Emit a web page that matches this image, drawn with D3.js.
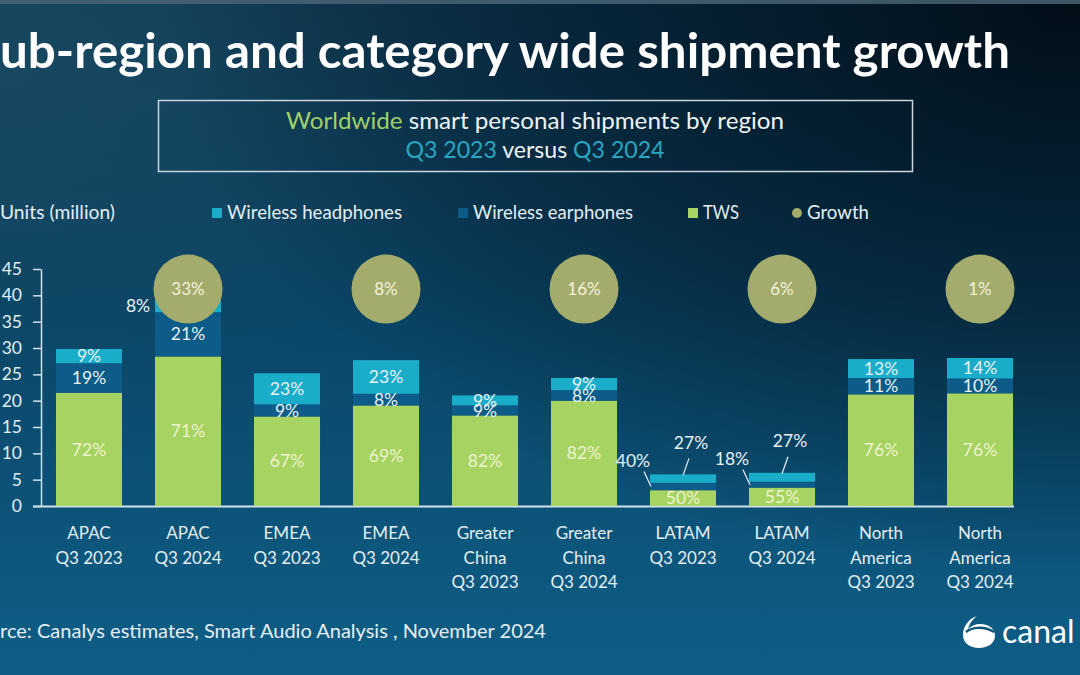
<!DOCTYPE html>
<html>
<head>
<meta charset="utf-8">
<script src="https://cdn.jsdelivr.net/npm/d3@7"></script>
<style>
  html, body { margin: 0; padding: 0; background: #0a3f5e; }
  svg { display: block; }
  text { font-family: Lato, "Open Sans", "DejaVu Sans", sans-serif; }
</style>
</head>
<body>
<svg id="chart" width="1080" height="675"></svg>
<script>
// ---------- data ----------
const categories = ["APAC Q3 2023","APAC Q3 2024","EMEA Q3 2023","EMEA Q3 2024","Greater China Q3 2023","Greater China Q3 2024","LATAM Q3 2023","LATAM Q3 2024","North America Q3 2023","North America Q3 2024"];
const categoryLines = [["APAC","Q3 2023"],["APAC","Q3 2024"],["EMEA","Q3 2023"],["EMEA","Q3 2024"],["Greater","China","Q3 2023"],["Greater","China","Q3 2024"],["LATAM","Q3 2023"],["LATAM","Q3 2024"],["North","America","Q3 2023"],["North","America","Q3 2024"]];
const twsValues        = [21.5, 28.4, 17.0, 19.1, 17.2, 20.0, 3.0, 3.5, 21.2, 21.4];
const earphoneValues   = [5.6, 8.4, 2.3, 2.2, 1.9, 2.0, 1.4, 1.1, 3.1, 2.8];
const headphoneValues  = [2.7, 3.2, 5.9, 6.4, 1.9, 2.3, 1.6, 1.7, 3.6, 3.9];
const twsShare         = ["72%","71%","67%","69%","82%","82%","50%","55%","76%","76%"];
const earphoneShare    = ["19%","21%","9%","8%","9%","8%","40%","18%","11%","10%"];
const headphoneShare   = ["9%","8%","23%","23%","9%","9%","27%","27%","13%","14%"];
const growthCategories = ["APAC Q3 2024","EMEA Q3 2024","Greater China Q3 2024","LATAM Q3 2024","North America Q3 2024"];
const growthLabels     = ["33%","8%","16%","6%","1%"];
const yTicks           = [0,5,10,15,20,25,30,35,40,45];
const legendItems      = ["Wireless headphones","Wireless earphones","TWS","Growth"];

// ---------- setup ----------
const W = 1080, H = 675;
const svg = d3.select("#chart");
const defs = svg.append("defs");

const bgLin = defs.append("linearGradient").attr("id","bgLin").attr("x1","0").attr("y1","0").attr("x2","0").attr("y2","1");
bgLin.append("stop").attr("offset","0").attr("stop-color","#0e3953");
bgLin.append("stop").attr("offset","0.45").attr("stop-color","#0a4566");
bgLin.append("stop").attr("offset","1").attr("stop-color","#0e5e87");
const bgRad = defs.append("radialGradient").attr("id","bgRad").attr("cx","1").attr("cy","0").attr("r","0.85");
bgRad.append("stop").attr("offset","0").attr("stop-color","#010b14").attr("stop-opacity","0.95");
bgRad.append("stop").attr("offset","0.55").attr("stop-color","#021422").attr("stop-opacity","0.55");
bgRad.append("stop").attr("offset","1").attr("stop-color","#021422").attr("stop-opacity","0");
const bgLeft = defs.append("radialGradient").attr("id","bgLeft").attr("cx","0").attr("cy","0.1").attr("r","0.5");
bgLeft.append("stop").attr("offset","0").attr("stop-color","#1b4b63").attr("stop-opacity","0.8");
bgLeft.append("stop").attr("offset","1").attr("stop-color","#1b4b63").attr("stop-opacity","0");

svg.append("rect").attr("width",W).attr("height",H).attr("fill","url(#bgLin)");
svg.append("rect").attr("width",W).attr("height",H).attr("fill","url(#bgLeft)");
svg.append("rect").attr("width",W).attr("height",H).attr("fill","url(#bgRad)");
svg.append("rect").attr("width",W).attr("height",4).attr("fill","#4e6878").attr("opacity",0.8);

const colors = { tws: "#a6d361", earphones: "#0c5b88", headphones: "#1aadc9", growth: "#a3ac6c" };

// ---------- title ----------
svg.append("text").attr("x",0).attr("y",68)
  .attr("font-size",47).attr("font-weight",700).attr("fill","#ffffff")
  .attr("textLength",1010).attr("lengthAdjust","spacingAndGlyphs")
  .text("ub-region and category wide shipment growth");

// ---------- subtitle box ----------
svg.append("rect").attr("x",158.5).attr("y",100.5).attr("width",754).attr("height",71)
  .attr("fill","none").attr("stroke","#c9d6de").attr("stroke-width",1.5);
const st1 = svg.append("text").attr("x",535).attr("y",129).attr("text-anchor","middle").attr("font-size",23)
  .attr("textLength",498).attr("lengthAdjust","spacingAndGlyphs");
st1.append("tspan").attr("fill","#9fd06a").text("Worldwide");
st1.append("tspan").attr("fill","#eef3f5").text(" smart personal shipments by region");
const st2 = svg.append("text").attr("x",535).attr("y",158).attr("text-anchor","middle").attr("font-size",23)
  .attr("textLength",259).attr("lengthAdjust","spacingAndGlyphs");
st2.append("tspan").attr("fill","#2aa6c0").text("Q3 2023");
st2.append("tspan").attr("fill","#eef3f5").text(" versus ");
st2.append("tspan").attr("fill","#2aa6c0").text("Q3 2024");

// ---------- legend ----------
svg.append("text").attr("x",0).attr("y",219).attr("font-size",18.5).attr("fill","#e3eef3")
  .attr("textLength",115).attr("lengthAdjust","spacingAndGlyphs").text("Units (million)");
const legendX = [212, 458, 688, 792];
const legendW = [175, 160, 36, 62];
const legendCol = [colors.headphones, colors.earphones, colors.tws, colors.growth];
legendItems.forEach((name, i) => {
  if (name === "Growth") {
    svg.append("circle").attr("cx",legendX[i]+5).attr("cy",213).attr("r",5).attr("fill",legendCol[i]);
  } else {
    svg.append("rect").attr("x",legendX[i]).attr("y",208).attr("width",10).attr("height",10).attr("fill",legendCol[i]);
  }
  svg.append("text").attr("x",legendX[i]+15).attr("y",219).attr("font-size",18.5).attr("fill","#e3eef3")
    .attr("textLength",legendW[i]).attr("lengthAdjust","spacingAndGlyphs").text(name);
});

// ---------- scales ----------
const y = d3.scaleLinear().domain([0,45]).range([506,269]);
const x = d3.scaleBand().domain(categories).range([39.5,1029.5]).paddingInner(0.333).paddingOuter(0.1665);
const bw = x.bandwidth();

// ---------- axes ----------
const yAxis = svg.append("g").attr("transform","translate(41,0)")
  .call(d3.axisLeft(y).tickValues(yTicks).tickSize(8).tickSizeOuter(0).tickPadding(11));
yAxis.select(".domain").attr("stroke","#cfe2ec").attr("stroke-width",1.5);
yAxis.selectAll(".tick line").attr("stroke","#cfe2ec").attr("stroke-width",1.5);
yAxis.selectAll(".tick text").attr("fill","#e3eef3").attr("font-size",17.5).attr("font-family","Lato, sans-serif");

const xAxis = svg.append("g").attr("transform","translate(0,506)")
  .call(d3.axisBottom(x).tickSize(0).tickFormat(""));
xAxis.select(".domain").attr("d","M33,0.5H1014").attr("stroke","#cfe2ec").attr("stroke-width",2);
xAxis.selectAll(".tick").each(function(d, i) {
  const t = d3.select(this).select("text").text(null).attr("y",0).attr("dy",null)
    .attr("fill","#e3eef3").attr("font-size",17).attr("font-family","Lato, sans-serif");
  categoryLines[i].forEach((line, j) => {
    t.append("tspan").attr("x",0).attr("y",33 + j*24.5).text(line);
  });
});

// ---------- stacked bars ----------
const rows = categories.map((c, i) => ({ cat: c, tws: twsValues[i], earphones: earphoneValues[i], headphones: headphoneValues[i] }));
const keys = ["tws","earphones","headphones"];
const shares = { tws: twsShare, earphones: earphoneShare, headphones: headphoneShare };
const stacked = d3.stack().keys(keys)(rows);

const gBars = svg.append("g");
stacked.forEach(layer => {
  gBars.selectAll(null).data(layer).enter().append("rect")
    .attr("x", d => x(d.data.cat))
    .attr("y", d => y(d[1]))
    .attr("width", bw)
    .attr("height", d => y(d[0]) - y(d[1]))
    .attr("fill", colors[layer.key]);
});

// ---------- growth circles ----------
const circleLevel = 41.2;
const circleR = 34.5;
const gGrowth = svg.append("g");
growthCategories.forEach((c, i) => {
  const cx = x(c) + bw/2, cy = y(circleLevel);
  gGrowth.append("circle").attr("cx",cx).attr("cy",cy).attr("r",circleR).attr("fill",colors.growth);
  gGrowth.append("text").attr("x",cx).attr("y",cy).attr("dy","0.35em").attr("text-anchor","middle")
    .attr("font-size",17).attr("fill","#f4f2da").text(growthLabels[i]);
});

// ---------- segment labels ----------
const gLab = svg.append("g");
stacked.forEach(layer => {
  layer.forEach((d, i) => {
    const x0 = x(d.data.cat), cx = x0 + bw/2;
    const top = y(d[1]), bot = y(d[0]), mid = (top + bot)/2;
    const txt = shares[layer.key][i];
    const fill = layer.key === "tws" ? "#eef3cf" : "#e6f2f6";
    const total = d.data.tws + d.data.earphones + d.data.headphones;
    if (total < 10 && layer.key === "earphones") {
      gLab.append("line").attr("x1",x0+1).attr("y1",mid).attr("x2",x0-6).attr("y2",mid-15)
        .attr("stroke","#d8e8ef").attr("stroke-width",1.3);
      gLab.append("text").attr("x",x0-17).attr("y",mid-26).attr("dy","0.35em").attr("text-anchor","middle")
        .attr("font-size",17.5).attr("fill",fill).text(txt);
    } else if (total < 10 && layer.key === "headphones") {
      gLab.append("line").attr("x1",cx).attr("y1",top+1).attr("x2",cx+6).attr("y2",top-16)
        .attr("stroke","#d8e8ef").attr("stroke-width",1.3);
      gLab.append("text").attr("x",cx+8).attr("y",top-32).attr("dy","0.35em").attr("text-anchor","middle")
        .attr("font-size",17.5).attr("fill",fill).text(txt);
    } else if (layer.key === "headphones" && mid < y(circleLevel) + circleR && growthCategories.includes(d.data.cat)) {
      gLab.append("text").attr("x",x0-17).attr("y",mid+2).attr("dy","0.35em").attr("text-anchor","middle")
        .attr("font-size",17.5).attr("fill",fill).text(txt);
    } else {
      gLab.append("text").attr("x",cx).attr("y",mid).attr("dy","0.35em").attr("text-anchor","middle")
        .attr("font-size",17.5).attr("fill",fill).text(txt);
    }
  });
});

// ---------- footer ----------
svg.append("text").attr("x",0).attr("y",638).attr("font-size",19).attr("fill","#e6eef2")
  .attr("textLength",546).attr("lengthAdjust","spacingAndGlyphs")
  .text("rce: Canalys estimates, Smart Audio Analysis , November 2024");

const logo = svg.append("g").attr("transform","translate(980,632)");
logo.append("path")
  .attr("d","M-3,-16 C-12,-13 -17,-5 -17,3 C-17,11 -10,16 -1,16 C8,16 15,11 15,4 C15,-4 8,-8 0,-8 C-5,-8 -9,-6 -12,-3 C-10,-10 -6,-14 -3,-16 Z")
  .attr("fill","#ffffff");
logo.append("path").attr("d","M-14,0 C-8,-5 4,-6 14,0").attr("fill","none").attr("stroke","#0b5478").attr("stroke-width",2.5);
svg.append("text").attr("x",1002).attr("y",643).attr("font-size",32).attr("fill","#ffffff").text("canal");
</script>
</body>
</html>
